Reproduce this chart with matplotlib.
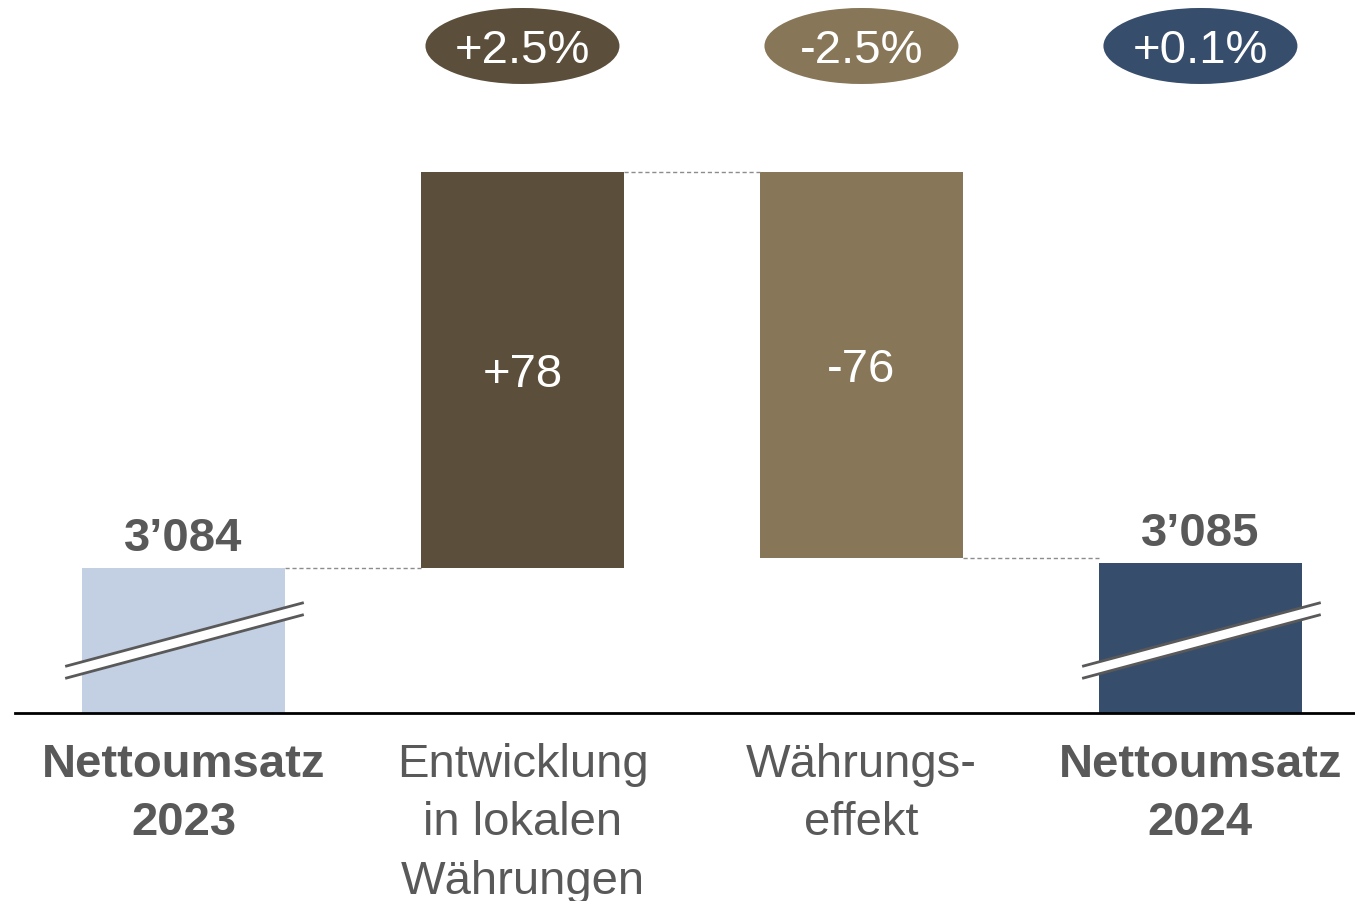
import matplotlib
matplotlib.use("Agg")
import matplotlib.pyplot as plt
from matplotlib.patches import Ellipse, Polygon

# data
categories = ["Nettoumsatz\n2023", "Entwicklung\nin lokalen\nWährungen", "Währungs-\neffekt", "Nettoumsatz\n2024"]
start_value = 3084
deltas = [78, -76]
end_value = 3085
delta_labels = ["+78", "-76"]
total_labels = ["3’084", "3’085"]
pct_labels = ["+2.5%", "-2.5%", "+0.1%"]
bold_cat = [True, False, False, True]

colors = ["#C3CFE2", "#5B4F3B", "#877657", "#374D6C"]
grey = "#595959"

plt.rcParams['font.family'] = ['Liberation Sans', 'DejaVu Sans']

fig = plt.figure(figsize=(13.55, 9.01), dpi=100)
ax = fig.add_axes([15/1355, 188/901, 1340/1355, 713/901])
ax.set_xlim(-0.497, 3.456)
ax.set_ylim(3055.4, 3196.0)
base = ax.get_ylim()[0]
bw = 0.6

# waterfall bars
ax.bar(0, start_value - base, bottom=base, width=bw, color=colors[0])
level = start_value
tops = [start_value]
for i, d in enumerate(deltas):
    lo, hi = min(level, level + d), max(level, level + d)
    ax.bar(i + 1, hi - lo, bottom=lo, width=bw, color=colors[i + 1])
    ax.text(i + 1, (lo + hi) / 2, delta_labels[i], ha='center', va='center_baseline',
            color='white', fontsize=34)
    level += d
    tops.append(level)
ax.bar(3, end_value - base, bottom=base, width=bw, color=colors[3])

# connectors
for i, y in enumerate(tops):
    ax.plot([i + bw/2, i + 1 - bw/2], [y, y], color="#8c8c8c", lw=1,
            ls=(0, (3, 2)))

# totals
for x, v, lab in [(0, start_value, total_labels[0]), (3, end_value, total_labels[1])]:
    ax.annotate(lab, (x, v), xytext=(0, 12.5), textcoords='offset points',
                ha='center', va='baseline', fontsize=34, fontweight='bold', color=grey)

# break marks
tr = ax.get_xaxis_transform()
for x in [0, 3]:
    x0, x1 = x - 0.345, x + 0.351
    ya0, ya1 = 0.0659, 0.1543
    off = 12 / 713
    ax.add_patch(Polygon([(x0, ya0), (x1, ya1), (x1, ya1 - off), (x0, ya0 - off)],
                         closed=True, transform=tr, facecolor='white',
                         edgecolor='none', zorder=3, clip_on=False))
    ax.plot([x0, x1], [ya0, ya1], transform=tr, color=grey, lw=2, zorder=4, clip_on=False)
    ax.plot([x0, x1], [ya0 - off, ya1 - off], transform=tr, color=grey, lw=2, zorder=4, clip_on=False)

# percentage ellipses
for i, lab in enumerate(pct_labels):
    ax.add_patch(Ellipse((i + 1, 0.9355), 194/339, 76/713, transform=tr,
                         facecolor=colors[i + 1], edgecolor='none', clip_on=False))
    ax.text(i + 1, 0.9355, lab, transform=tr, ha='center', va='center_baseline',
            color='white', fontsize=34)

# category labels
for i, lab in enumerate(categories):
    ax.text(i, -0.042, lab, transform=tr, ha='center', va='top', fontsize=34,
            color=grey, fontweight='bold' if bold_cat[i] else 'normal',
            linespacing=1.42, clip_on=False)

for s in ['top', 'right', 'left']:
    ax.spines[s].set_visible(False)
ax.spines['bottom'].set_linewidth(2)
ax.spines['bottom'].set_color('black')
ax.set_xticks([])
ax.set_yticks([])

fig.savefig("out.png", dpi=100)
